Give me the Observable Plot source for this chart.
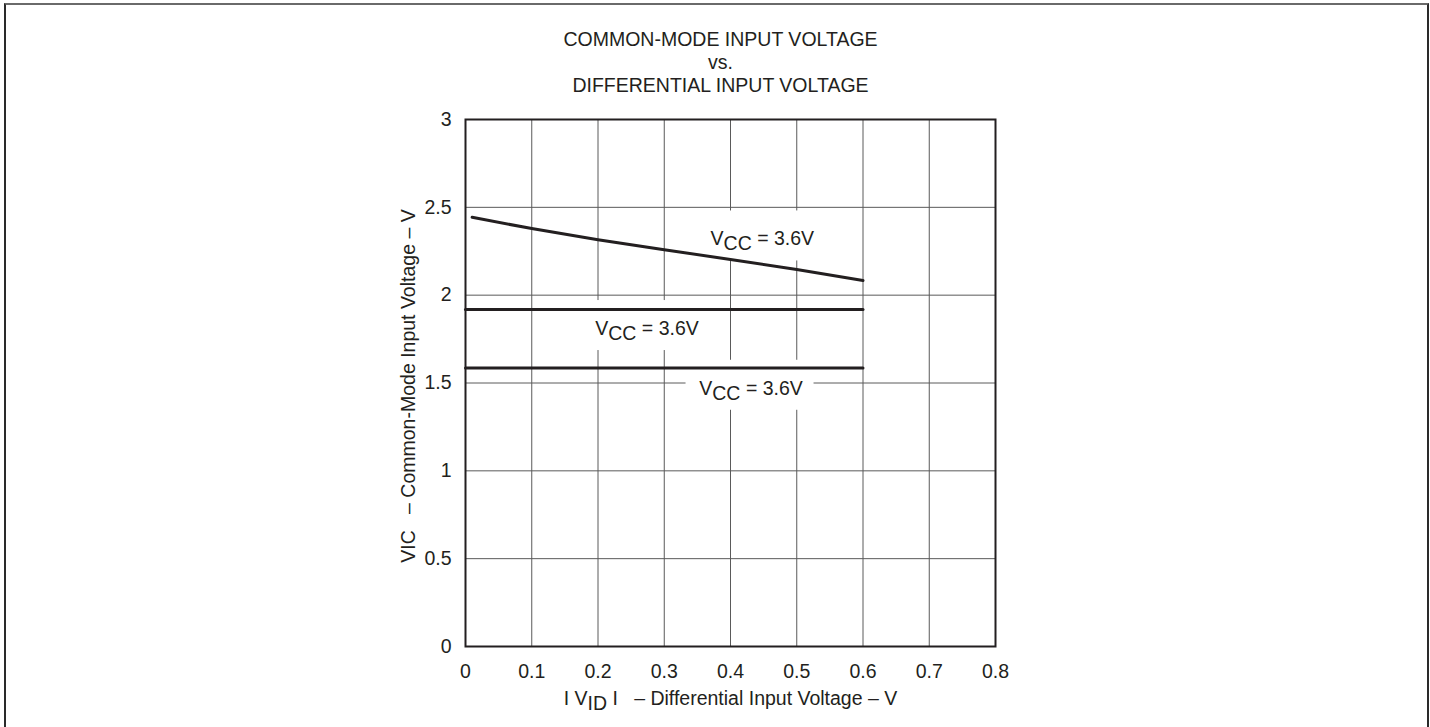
<!DOCTYPE html>
<html>
<head>
<meta charset="utf-8">
<script src="https://cdn.jsdelivr.net/npm/d3@7"></script>
<script src="https://cdn.jsdelivr.net/npm/@observablehq/plot@0.6"></script>
<style>
  html, body { margin: 0; padding: 0; background: #fff; }
  body { position: relative; width: 1430px; height: 727px; overflow: hidden; font-family: "Liberation Sans", Arial, sans-serif; }
  #border { position: absolute; left: 4px; top: 3px; width: 1421px; height: 800px; border: 2px solid #2a2a2a; border-top-color: #6a6a6a; }
  #title { position: absolute; top: 28px; left: 0; width: 1430px; padding-left: 11px; box-sizing: border-box; text-align: center; font-size: 19.5px; line-height: 23px; color: #231f20; }
  #chart { position: absolute; top: 97px; left: 0; }
  svg text { white-space: pre; }
</style>
</head>
<body>
<div id="border"></div>
<div id="title">COMMON-MODE INPUT VOLTAGE<br>vs.<br>DIFFERENTIAL INPUT VOLTAGE</div>
<div id="chart"></div>
<script>
// ---- data ----
const xTicks = [0, 0.1, 0.2, 0.3, 0.4, 0.5, 0.6, 0.7, 0.8];
const xTickLabels = ["0", "0.1", "0.2", "0.3", "0.4", "0.5", "0.6", "0.7", "0.8"];
const yTicks = [0, 0.5, 1, 1.5, 2, 2.5, 3];
const yTickLabels = ["0", "0.5", "1", "1.5", "2", "2.5", "3"];

// upper curve
const curveX = [0.01, 0.1, 0.2, 0.3, 0.4, 0.5, 0.6];
const curveY = [2.443, 2.379, 2.316, 2.259, 2.203, 2.146, 2.084];
// middle flat line
const midX = [0, 0.6];
const midY = [1.918, 1.918];
// lower flat line
const lowX = [0, 0.6];
const lowY = [1.586, 1.586];

// curve labels
const labelText = ["VCC = 3.6V", "VCC = 3.6V", "VCC = 3.6V"];
const labelX = [0.448, 0.274, 0.431];
const labelY = [2.32, 1.81, 1.47];

const xAxisLabel = "I VID I   \u2013 Differential Input Voltage \u2013 V";
const yAxisLabel = "VIC   \u2013 Common-Mode Input Voltage \u2013 V";

// ---- build ----
const toPts = (xs, ys) => xs.map((x, i) => ({x, y: ys[i]}));
const curve = toPts(curveX, curveY);
const mid = toPts(midX, midY);
const low = toPts(lowX, lowY);
const labels = labelText.map((t, i) => ({t, x: labelX[i], y: labelY[i]}));

const W = 1430, H = 630;
const mL = 465, mR = 435, mT = 22, mB = 81;
const kx = 0.8 / (W - mL - mR);   // data units per px (x)
const ky = 3 / (H - mT - mB);     // data units per px (y)

const ink = "#231f20";
const gridColor = "#5a5a5a";

const chart = Plot.plot({
  width: W,
  height: H,
  marginLeft: mL,
  marginRight: mR,
  marginTop: mT,
  marginBottom: mB,
  style: {fontFamily: "'Liberation Sans', Arial, sans-serif", fontSize: "19.5px", color: ink, background: "transparent", overflow: "visible"},
  x: {domain: [0, 0.8], ticks: xTicks, tickFormat: (d) => xTickLabels[xTicks.indexOf(d)], tickSize: 0, tickPadding: 18, label: null},
  y: {domain: [0, 3], ticks: yTicks, tickFormat: (d) => yTickLabels[yTicks.indexOf(d)], tickSize: 0, tickPadding: 14, label: null},
  marks: [
    Plot.ruleX(xTicks, {stroke: gridColor, strokeWidth: 1}),
    Plot.ruleY(yTicks, {stroke: gridColor, strokeWidth: 1}),
    Plot.rect(labels, {
      x1: (d) => d.x - 65 * kx, x2: (d) => d.x + 63 * kx,
      y1: (d) => d.y - 22 * ky, y2: (d) => d.y + 28 * ky,
      fill: "white"
    }),
    Plot.frame({stroke: ink, strokeWidth: 2}),
    Plot.line(curve, {x: "x", y: "y", stroke: ink, strokeWidth: 3}),
    Plot.line(mid, {x: "x", y: "y", stroke: ink, strokeWidth: 3}),
    Plot.line(low, {x: "x", y: "y", stroke: ink, strokeWidth: 3}),
    Plot.text(labels, {x: "x", y: "y", text: "t", fill: ink, fontSize: 19.5, lineAnchor: "middle", textAnchor: "middle"}),
    Plot.text([xAxisLabel], {frameAnchor: "bottom", dy: 52, text: (d) => d, fill: ink, fontSize: 19.5, lineAnchor: "middle", textAnchor: "middle"}),
    Plot.text([yAxisLabel], {frameAnchor: "left", dx: -57, dy: 3, rotate: -90, text: (d) => d, fill: ink, fontSize: 19.5, lineAnchor: "middle", textAnchor: "middle"})
  ]
});

document.getElementById("chart").appendChild(chart);

// subscripts
const svg = d3.select(chart);
svg.selectAll("text").each(function () {
  const el = d3.select(this);
  const s = this.textContent;
  if (s === "VCC = 3.6V") {
    el.text(null);
    el.append("tspan").text("V");
    el.append("tspan").attr("dy", 5).text("CC");
    el.append("tspan").attr("dy", -5).text(" = 3.6V");
  } else if (s === xAxisLabel) {
    el.text(null);
    el.append("tspan").text("I V");
    el.append("tspan").attr("dy", 5).text("ID");
    el.append("tspan").attr("dy", -5).text(" I   \u2013 Differential Input Voltage \u2013 V");
  }
});
</script>
</body>
</html>
